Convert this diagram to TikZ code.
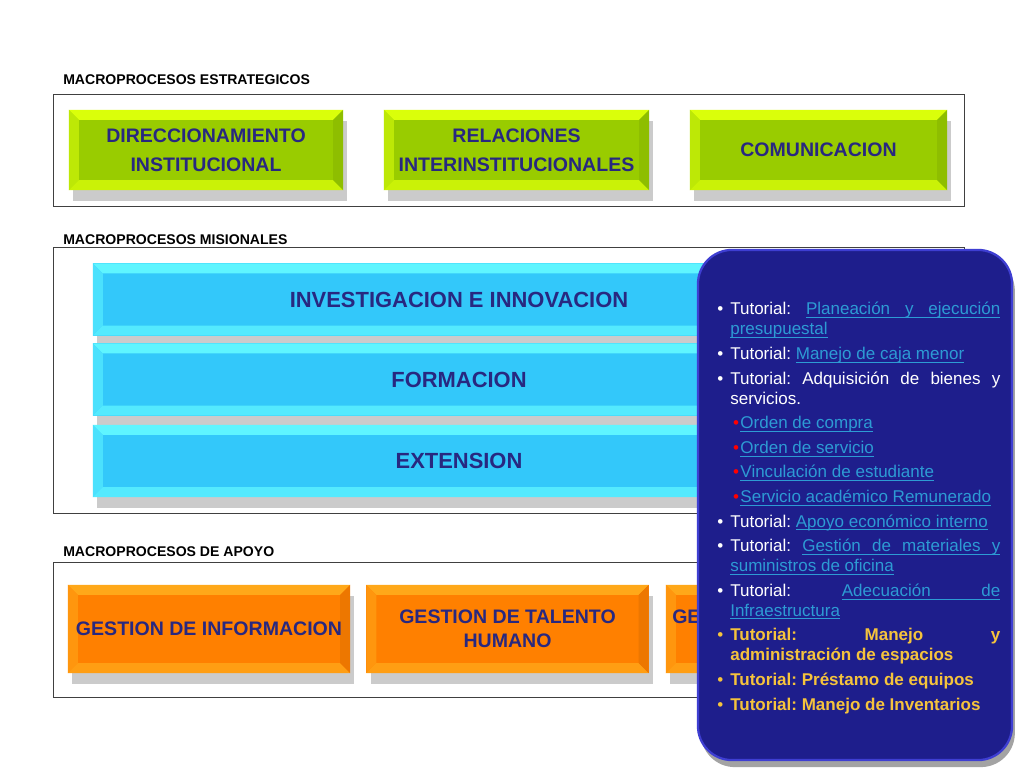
\documentclass[tikz,border=0pt]{standalone}
\usepackage{fontspec}
\setmainfont{Liberation Sans}
\usetikzlibrary{shadows}

\definecolor{navytxt}{RGB}{40,40,128}
\definecolor{limebase}{RGB}{153,204,0}
\definecolor{limelight}{RGB}{218,255,10}
\definecolor{cyanbase}{RGB}{51,200,250}
\definecolor{cyanlight}{RGB}{95,245,255}
\definecolor{orangebase}{RGB}{255,128,0}
\definecolor{orangelight}{RGB}{255,168,25}
\definecolor{panelblue}{RGB}{30,30,140}
\definecolor{panelrim}{RGB}{62,62,210}
\definecolor{linkblue}{RGB}{45,155,212}
\definecolor{tutyellow}{RGB}{245,195,60}

% underlined link, word by word so that lines can break
\newcommand{\ulword}[1]{\setbox0\hbox{#1}\rlap{\rule[-2.2pt]{\wd0}{0.6pt}}\box0}
\newcommand{\ulspace}{\leaders\hrule height -1.6pt depth 2.2pt\hskip\fontdimen2\font plus\fontdimen3\font minus\fontdimen4\font\relax}
\def\ulsplit#1 #2\relax{\ulword{#1}\ifx\relax#2\relax\else\ulspace\ulsplit#2\relax\fi}
\newcommand{\tutlink}[1]{\textcolor{linkblue}{\ulsplit#1 \relax}}
\newcommand{\tutitem}[1][white]{\par\noindent\llap{\textcolor{#1}{\textbullet}\hspace{5pt}}\ignorespaces}
\newcommand{\tutsub}{\par\noindent\hspace*{2pt}\textcolor{red}{\textbullet}\hspace{1pt}\ignorespaces}

\tikzset{
    bevel/.style 2 args={fill=#1, path picture={
        \path (path picture bounding box.north west) coordinate (pnw)
              (path picture bounding box.north east) coordinate (pne)
              (path picture bounding box.south west) coordinate (psw)
              (path picture bounding box.south east) coordinate (pse);
        \fill[#2] (pnw) -- (pne) -- ([shift={(-7pt,-7pt)}]pne) -- ([shift={(7pt,-7pt)}]pnw) -- cycle;
        \fill[#2!55!#1] (pnw) -- ([shift={(7pt,-7pt)}]pnw) -- ([shift={(7pt,7pt)}]psw) -- (psw) -- cycle;
        \fill[#2!75!#1] (psw) -- ([shift={(7pt,7pt)}]psw) -- ([shift={(-7pt,7pt)}]pse) -- (pse) -- cycle;
        \fill[#1!93!black] (pne) -- ([shift={(-7pt,-7pt)}]pne) -- ([shift={(-7pt,7pt)}]pse) -- (pse) -- cycle;
    }}
}

\begin{document}
\begin{tikzpicture}[x=0.025cm, y=-0.025cm,
    frame/.style={draw=black!75, line width=0.7pt, fill=white},
    grouplabel/.style={anchor=base west, inner sep=0pt, font=\fontsize{10}{12}\selectfont\bfseries},
    shadowed/.style={drop shadow={shadow xshift=3pt, shadow yshift=-8pt, fill=black!40, opacity=0.5}},
    limebox/.style={bevel={limebase}{limelight}, shadowed, text=navytxt, align=center, inner sep=0pt,
        minimum height=2cm, font=\fontsize{13.9}{20.6}\selectfont\bfseries},
    cyanbar/.style={bevel={cyanbase}{cyanlight}, shadowed, text=navytxt, inner sep=0pt,
        minimum width=18.3cm, minimum height=1.8cm, font=\fontsize{15.6}{18}\selectfont\bfseries},
    orangebox/.style={bevel={orangebase}{orangelight}, shadowed, text=navytxt, align=center, inner sep=0pt,
        minimum width=7.05cm, minimum height=2.2cm, font=\fontsize{13.9}{17}\selectfont\bfseries},
    panel/.style={fill=panelblue, draw=panelrim, line width=1.6pt, rounded corners=0.85cm,
        drop shadow={shadow xshift=2pt, shadow yshift=-5pt, fill=black!60, opacity=0.6}},
    tuttext/.style={anchor=north west, inner sep=0pt, text width=6.75cm, align=justify, text=white,
        font=\fontsize{12.1}{14.2}\selectfont}
]
    \fill[white] (0,0) rectangle (1024,768);
    \useasboundingbox (0,0) rectangle (1024,768);

    % estrategicos
    \node[grouplabel] (lblestr) at (63,85) {MACROPROCESOS ESTRATEGICOS};
    \draw[frame] (53,94) rectangle (964,206);
    \node[limebox, minimum width=6.85cm] (direccion) at (206,150) {DIRECCIONAMIENTO\\INSTITUCIONAL};
    \node[limebox, minimum width=6.625cm] (relaciones) at (516.5,150) {RELACIONES\\INTERINSTITUCIONALES};
    \node[limebox, minimum width=6.425cm] (comunicacion) at (818.5,150) {COMUNICACION};

    % misionales
    \node[grouplabel] (lblmis) at (63,244) {MACROPROCESOS MISIONALES};
    \draw[frame] (53,247) rectangle (964,513);
    \node[cyanbar] (investigacion) at (459,299.5) {INVESTIGACION E INNOVACION};
    \node[cyanbar] (formacion) at (459,379.5) {FORMACION};
    \node[cyanbar] (extension) at (459,461) {EXTENSION};

    % apoyo
    \node[grouplabel] (lblapoyo) at (63,556) {MACROPROCESOS DE APOYO};
    \draw[frame] (53,562) rectangle (964,697);
    \node[orangebox] (informacion) at (209,629) {GESTION DE INFORMACION};
    \node[orangebox] (talento) at (507.5,629) {GESTION DE TALENTO\\HUMANO};
    \node[orangebox] (gestion3) at (807,629) {};
    \node[anchor=base west, inner sep=0pt, text=navytxt, font=\fontsize{13.9}{17}\selectfont\bfseries] (gestion3txt) at (672,623) {GE};

    % tutoriales
    \node[panel, minimum width=7.85cm, minimum height=12.75cm] (tutpanel) at (855,505) {};
    \node[tuttext] (tutoriales) at (730,290) {\frenchspacing \hyphenpenalty=10000 \exhyphenpenalty=10000 \tolerance=10000 \parskip=3.3pt
        \tutitem Tutorial: \tutlink{Planeación y ejecución presupuestal}
        \tutitem Tutorial: \tutlink{Manejo de caja menor}
        \tutitem Tutorial: Adquisición de bienes y servicios.
        \tutsub \tutlink{Orden de compra}
        \tutsub \tutlink{Orden de servicio}
        \tutsub \tutlink{Vinculación de estudiante}
        \tutsub \tutlink{Servicio académico Remunerado}
        \tutitem Tutorial: \tutlink{Apoyo económico interno}
        \tutitem Tutorial: \tutlink{Gestión de materiales y suministros de oficina}
        \tutitem Tutorial: \tutlink{Adecuación de Infraestructura}
        \tutitem[tutyellow] \textcolor{tutyellow}{\bfseries Tutorial: Manejo y\linebreak administración de espacios}
        \tutitem[tutyellow] \textcolor{tutyellow}{\bfseries Tutorial: Préstamo de equipos}
        \tutitem[tutyellow] \textcolor{tutyellow}{\bfseries Tutorial: Manejo de Inventarios}\par};
\end{tikzpicture}
\end{document}
